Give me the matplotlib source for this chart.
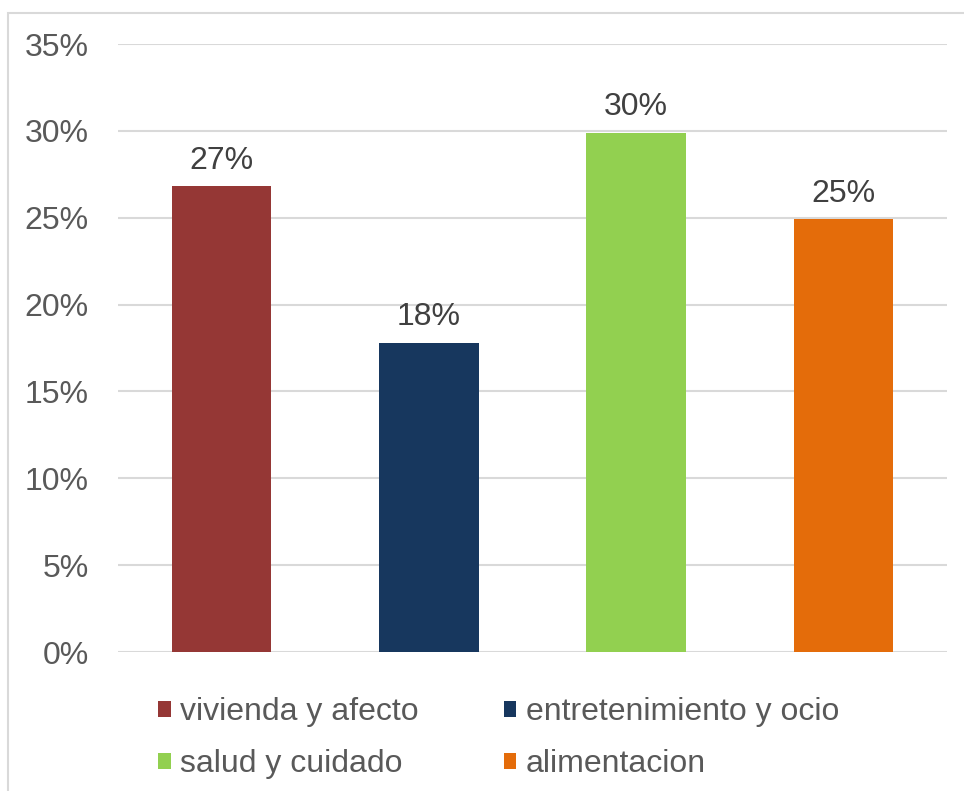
import matplotlib.pyplot as plt
from matplotlib.patches import Patch, Rectangle
import numpy as np

plt.rcParams['font.family'] = ['Liberation Sans', 'DejaVu Sans']

# data
categorias = ['vivienda y afecto', 'entretenimiento y ocio', 'salud y cuidado', 'alimentacion']
valores = [26.8, 17.8, 29.9, 24.9]
etiquetas = ['27%', '18%', '30%', '25%']
colores = ['#953735', '#17375E', '#92D050', '#E46C0A']
ticks = [0, 5, 10, 15, 20, 25, 30, 35]

fig = plt.figure(figsize=(9.64, 7.91), dpi=100)
ax = fig.add_axes([118/964, 1 - 652/791, (947 - 118)/964, (652 - 44)/791])

# chart border (only left and top visible in the crop)
fig.patches.append(Rectangle((8/964, -0.2), 1.2, 1 - 13/791 + 0.2, transform=fig.transFigure,
                             fill=False, edgecolor='#D9D9D9', lw=1.5))

x = np.arange(len(categorias))
bars = ax.bar(x, valores, width=0.48, color=colores, zorder=3)
for i in range(len(x)):
    ax.text(x[i], valores[i] + 0.6, etiquetas[i], ha='center', va='bottom',
            fontsize=23, color='#404040')

ax.set_xlim(-0.5, len(categorias) - 0.5)
ax.set_ylim(0, 35)
ax.set_yticks(ticks)
ax.set_yticklabels([str(t) + '%' for t in ticks])
ax.set_xticks([])
ax.yaxis.grid(True, color='#D9D9D9', lw=1.5, zorder=0)
ax.tick_params(axis='y', length=0, labelsize=23, labelcolor='#595959', pad=21)
for s in ax.spines.values():
    s.set_visible(False)

orden = [0, 2, 1, 3]
handles = [Patch(facecolor=colores[i]) for i in orden]
labels = [categorias[i] for i in orden]
fig.legend(handles, labels, ncol=2, loc='upper left', bbox_to_anchor=(158/964, 1 - 697/791),
           frameon=False, fontsize=23, labelcolor='#595959', handlelength=0.4, handleheight=0.4,
           handletextpad=0.3, columnspacing=2.65, labelspacing=0.7, borderpad=0, borderaxespad=0)

fig.savefig('out.png', dpi=100)
